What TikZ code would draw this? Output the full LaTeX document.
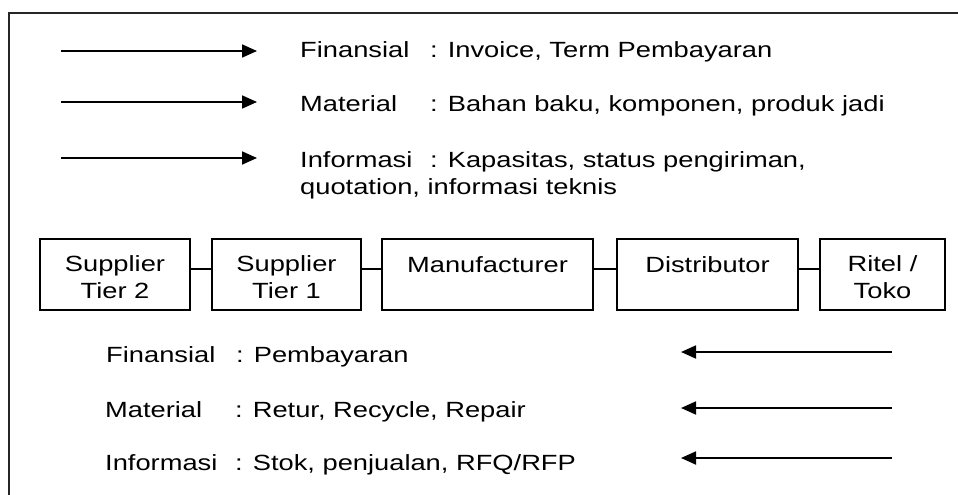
\documentclass[tikz,border=0pt]{standalone}
\usepackage{fontspec}
\setmainfont{Liberation Sans}[FakeStretch=1.24]
\usetikzlibrary{arrows.meta}

% label of a flow, padded so that the colons line up
\newcommand\flowlabel[1]{\makebox[130pt][l]{#1}: }
% strut that sets the first line of a stage box a little lower
\newcommand\stagestrut{\rule{0pt}{22pt}}

\begin{document}
\begin{tikzpicture}[x=1pt,y=-1pt,
  every node/.style={font=\fontsize{22}{27}\selectfont, inner sep=0pt},
  flow/.style={line width=1.8pt, -{Triangle[length=15pt,width=13pt]}},
  stage/.style={draw, line width=1.4pt, align=center, minimum height=71pt},
  link/.style={line width=1.4pt},
  legend/.style={anchor=base west, align=left}]

\useasboundingbox (0,0) rectangle (958,495);

% outer frame (runs off the right and bottom edges)
\draw[line width=2pt, black!85] (9,13) rectangle (990,530);

% forward flows
\coordinate (fa1) at (61,51);   \coordinate (fa2) at (257,51);
\coordinate (fb1) at (61,102);  \coordinate (fb2) at (257,102);
\coordinate (fc1) at (61,158);  \coordinate (fc2) at (257,158);
\draw[flow] (fa1) -- (fa2);
\draw[flow] (fb1) -- (fb2);
\draw[flow] (fc1) -- (fc2);

\node[legend] (tfin) at (300,57)  {\flowlabel{Finansial}Invoice, Term Pembayaran};
\node[legend] (tmat) at (300,111) {\flowlabel{Material}Bahan baku, komponen, produk jadi};
% base of a two-line node is its last line
\node[legend] (tinf) at (300,194) {\flowlabel{Informasi}Kapasitas, status pengiriman,\\quotation, informasi teknis};

% supply chain stages
\node[stage, minimum width=150pt] (st2)  at (115,274.5)   {\stagestrut Supplier\\Tier 2};
\node[stage, minimum width=149pt] (st1)  at (286.5,274.5) {\stagestrut Supplier\\Tier 1};
\node[stage, minimum width=211pt] (man)  at (487.5,274.5) {\stagestrut Manufacturer\\\mbox{}};
\node[stage, minimum width=181pt] (dis)  at (707.5,274.5) {\stagestrut Distributor\\\mbox{}};
\node[stage, minimum width=125pt] (ret)  at (882.5,274.5) {\stagestrut Ritel /\\Toko};

\draw[link] ([yshift=5.5pt]st2.east) -- ([yshift=5.5pt]st1.west);
\draw[link] ([yshift=5.5pt]st1.east) -- ([yshift=5.5pt]man.west);
\draw[link] ([yshift=5.5pt]man.east) -- ([yshift=5.5pt]dis.west);
\draw[link] ([yshift=5.5pt]dis.east) -- ([yshift=5.5pt]ret.west);

% backward flows
\node[legend] (bfin) at (106,362) {\flowlabel{Finansial}Pembayaran};
\node[legend] (bmat) at (105,417) {\flowlabel{Material}Retur, Recycle, Repair};
\node[legend] (binf) at (105,470) {\flowlabel{Informasi}Stok, penjualan, RFQ/RFP};

\coordinate (ba1) at (892,352); \coordinate (ba2) at (681,352);
\coordinate (bb1) at (892,408); \coordinate (bb2) at (681,408);
\coordinate (bc1) at (892,458); \coordinate (bc2) at (681,458);
\draw[flow] (ba1) -- (ba2);
\draw[flow] (bb1) -- (bb2);
\draw[flow] (bc1) -- (bc2);

\end{tikzpicture}
\end{document}
